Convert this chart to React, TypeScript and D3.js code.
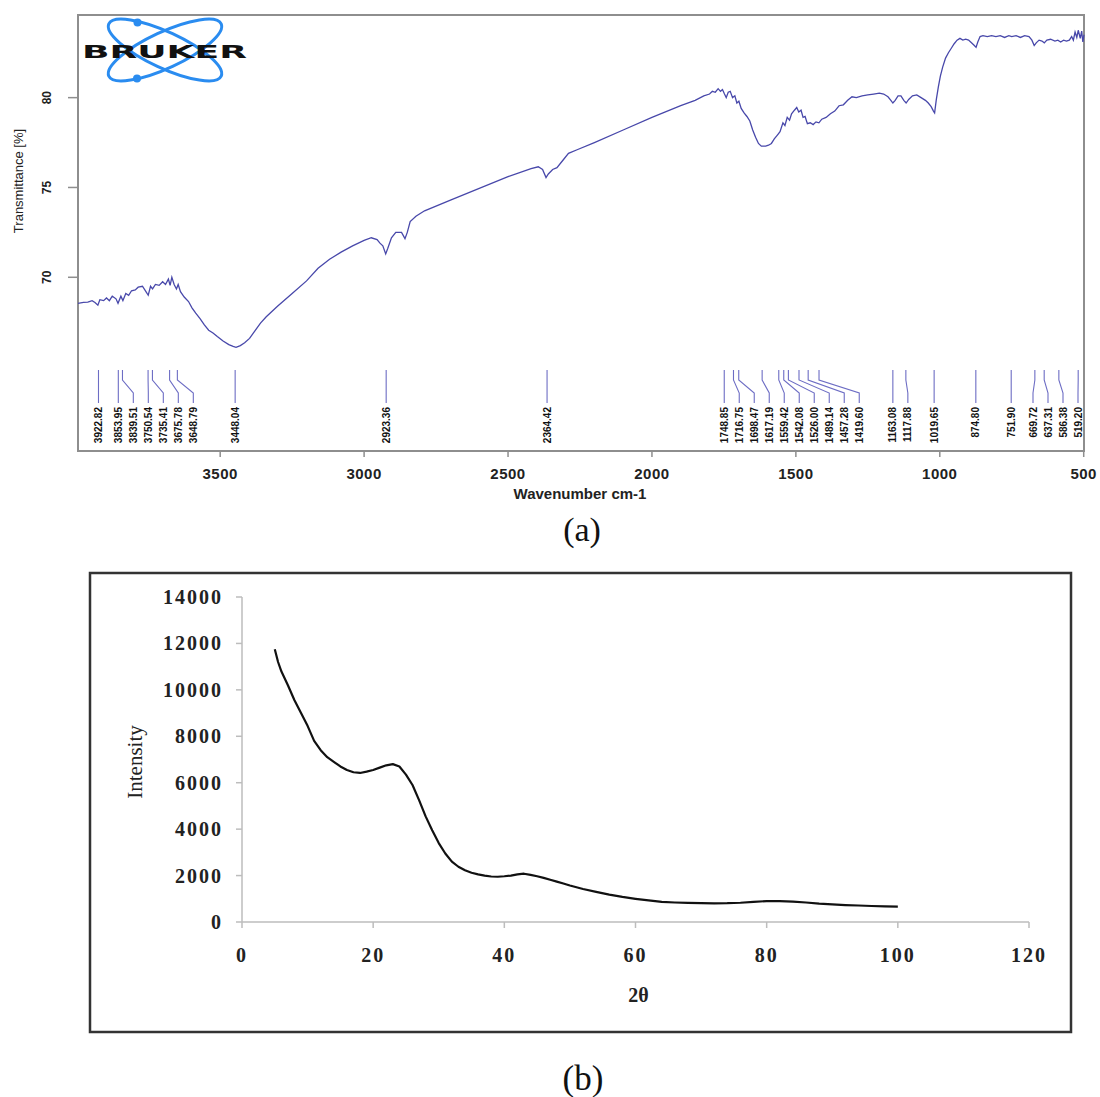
import React from 'react';
import * as d3 from 'd3';

// ---------- FTIR (a) ----------
const ftirData: [number, number][] = [
  [3994, 68.55], [3975, 68.6], [3960, 68.62], [3945, 68.7], [3935, 68.6], [3925, 68.45], [3918, 68.75],
  [3905, 68.7], [3895, 68.85], [3885, 68.7], [3875, 68.95], [3862, 68.8], [3855, 68.55], [3845, 68.95],
  [3838, 68.7], [3828, 69.1], [3818, 69.0], [3808, 69.25], [3795, 69.3], [3785, 69.45], [3770, 69.5],
  [3758, 69.2], [3750, 69.0], [3742, 69.5], [3735, 69.35], [3725, 69.6], [3712, 69.55], [3700, 69.75],
  [3690, 69.6], [3680, 69.9], [3674, 69.55], [3668, 70.0], [3660, 69.6], [3652, 69.35], [3646, 69.6],
  [3638, 69.2], [3625, 68.9], [3610, 68.65], [3598, 68.3], [3585, 68.0], [3570, 67.7], [3555, 67.35],
  [3540, 67.05], [3525, 66.9], [3510, 66.7], [3490, 66.45], [3470, 66.25], [3455, 66.15], [3445, 66.1],
  [3430, 66.2], [3415, 66.35], [3398, 66.6], [3380, 67.0], [3360, 67.45], [3340, 67.8], [3300, 68.4],
  [3250, 69.1], [3200, 69.8], [3160, 70.5], [3120, 71.0], [3080, 71.4], [3040, 71.75], [3000, 72.05],
  [2975, 72.2], [2955, 72.1], [2945, 71.9], [2935, 71.75], [2925, 71.3], [2918, 71.6], [2905, 72.2],
  [2890, 72.5], [2870, 72.5], [2858, 72.15], [2850, 72.5], [2840, 73.1], [2820, 73.4], [2790, 73.7],
  [2700, 74.3], [2600, 74.95], [2500, 75.6], [2420, 76.05], [2395, 76.15], [2380, 76.0], [2368, 75.55],
  [2360, 75.75], [2345, 76.0], [2330, 76.1], [2310, 76.5], [2290, 76.9], [2260, 77.1], [2200, 77.5],
  [2100, 78.2], [2000, 78.9], [1900, 79.55], [1850, 79.85], [1820, 80.1], [1800, 80.2], [1790, 80.35],
  [1780, 80.3], [1770, 80.5], [1762, 80.35], [1755, 80.45], [1748, 80.2], [1742, 80.0], [1735, 80.3],
  [1728, 80.35], [1720, 80.0], [1712, 80.1], [1705, 79.7], [1698, 79.8], [1690, 79.4], [1680, 79.15],
  [1670, 78.95], [1660, 78.7], [1650, 78.2], [1640, 77.8], [1630, 77.45], [1620, 77.3], [1605, 77.3],
  [1595, 77.35], [1585, 77.45], [1575, 77.7], [1565, 77.9], [1555, 78.1], [1545, 78.6], [1538, 78.45],
  [1530, 78.9], [1522, 78.75], [1515, 79.1], [1505, 79.3], [1497, 79.45], [1490, 79.2], [1482, 79.3],
  [1475, 78.9], [1468, 78.95], [1460, 78.55], [1450, 78.6], [1440, 78.5], [1430, 78.65], [1420, 78.6],
  [1410, 78.8], [1395, 78.9], [1380, 79.1], [1365, 79.25], [1350, 79.55], [1335, 79.6], [1320, 79.85],
  [1305, 80.05], [1290, 80.0], [1270, 80.1], [1250, 80.15], [1230, 80.2], [1210, 80.25], [1195, 80.2],
  [1180, 80.05], [1170, 79.85], [1163, 79.7], [1155, 79.85], [1145, 80.1], [1135, 80.1], [1125, 79.85],
  [1117, 79.7], [1108, 79.9], [1095, 80.1], [1080, 80.15], [1065, 80.0], [1050, 79.85], [1040, 79.7],
  [1030, 79.5], [1022, 79.25], [1018, 79.15], [1012, 79.9], [1005, 80.6], [998, 81.2], [990, 81.7],
  [980, 82.2], [970, 82.5], [960, 82.75], [950, 83.0], [940, 83.2], [930, 83.3], [920, 83.2],
  [910, 83.25], [900, 83.2], [890, 83.05], [880, 82.9], [874, 82.8], [868, 83.1], [860, 83.4],
  [850, 83.45], [835, 83.4], [820, 83.45], [805, 83.4], [790, 83.45], [775, 83.35], [760, 83.45],
  [750, 83.4], [735, 83.45], [720, 83.35], [705, 83.45], [690, 83.4], [680, 83.2], [672, 82.9],
  [665, 83.05], [655, 83.2], [645, 83.15], [637, 83.05], [628, 83.2], [615, 83.25], [600, 83.15],
  [590, 83.2], [580, 83.1], [570, 83.2], [560, 83.15], [550, 83.2], [542, 83.4], [536, 83.2],
  [530, 83.65], [524, 83.35], [519, 83.75], [512, 83.3], [507, 83.7], [503, 83.1], [499, 83.5],
];

const ftirPeaks: number[] = [
  3922.82, 3853.95, 3839.51, 3750.54, 3735.41, 3675.78, 3648.79, 3448.04, 2923.36, 2364.42,
  1748.85, 1716.75, 1698.47, 1617.19, 1559.42, 1542.08, 1526.0, 1489.14, 1457.28, 1419.6,
  1163.08, 1117.88, 1019.65, 874.8, 751.9, 669.72, 637.31, 586.38, 519.2,
];

const ftirXTicks = [3500, 3000, 2500, 2000, 1500, 1000, 500];
const ftirYTicks = [70, 75, 80];

// ---------- XRD (b) ----------
const xrdData: [number, number][] = [
  [5, 11750], [5.5, 11200], [6, 10800], [7, 10200], [8, 9550], [9, 9000], [10, 8450], [11, 7800],
  [12, 7400], [13, 7100], [14, 6900], [15, 6700], [16, 6550], [17, 6450], [18, 6420], [19, 6480],
  [20, 6550], [21, 6650], [22, 6750], [23, 6800], [24, 6700], [25, 6350], [26, 5900], [27, 5250],
  [28, 4550], [29, 3950], [30, 3400], [31, 2950], [32, 2600], [33, 2380], [34, 2230], [35, 2120],
  [36, 2050], [37, 2000], [38, 1960], [39, 1950], [40, 1970], [41, 2000], [42, 2050], [43, 2080],
  [44, 2030], [45, 1970], [46, 1900], [47, 1820], [48, 1740], [49, 1660], [50, 1570], [52, 1420],
  [54, 1300], [56, 1180], [58, 1080], [60, 1000], [62, 930], [64, 870], [66, 840], [68, 820],
  [70, 810], [72, 805], [74, 810], [76, 830], [78, 870], [80, 900], [82, 900], [84, 880],
  [86, 840], [88, 790], [90, 760], [92, 730], [94, 710], [96, 690], [98, 670], [100, 660],
];

const xrdXTicks = [0, 20, 40, 60, 80, 100, 120];
const xrdYTicks = [0, 2000, 4000, 6000, 8000, 10000, 12000, 14000];

const SANS = 'Liberation Sans, Arial, sans-serif';
const SERIF = 'Liberation Serif, Times New Roman, serif';

export default function App() {
  // FTIR scales
  const fx = d3.scaleLinear().domain([3994, 499]).range([78, 1084]);
  const fy = d3.scaleLinear().domain([60.33, 84.6]).range([451, 15]);
  const ftirLine = d3
    .line<[number, number]>()
    .x((d) => fx(d[0]))
    .y((d) => fy(d[1]));

  // peak label layout
  const peakXs = ftirPeaks.map((p) => fx(p));
  const labXs = [...peakXs];
  const gap = 15;
  for (let i = 1; i < labXs.length; i++) labXs[i] = Math.max(labXs[i], labXs[i - 1] + gap);
  labXs[labXs.length - 1] = Math.min(labXs[labXs.length - 1], 1078);
  for (let i = labXs.length - 2; i >= 0; i--) labXs[i] = Math.min(labXs[i], labXs[i + 1] - gap);

  // XRD scales
  const bx = d3.scaleLinear().domain([0, 120]).range([242, 1029]);
  const by = d3.scaleLinear().domain([0, 14000]).range([922, 597]);
  const xrdLine = d3
    .line<[number, number]>()
    .x((d) => bx(d[0]))
    .y((d) => by(d[1]));

  const frameGrey = '#8e8e8e';

  return (
    <svg
      width={1100}
      height={1097}
      style={{ position: 'absolute', left: 0, top: 0, background: '#fff' }}
      xmlns="http://www.w3.org/2000/svg"
    >
      <rect x={0} y={0} width={1100} height={1097} fill="#fff" />

      {/* ===== (a) FTIR ===== */}
      <rect x={78} y={15} width={1006} height={436} fill="none" stroke={frameGrey} strokeWidth={2} />

      {/* Bruker logo */}
      <g>
        <ellipse cx={165} cy={50} rx={62} ry={18} fill="none" stroke="#2a8cf0" strokeWidth={3}
          transform="rotate(25 165 50)" />
        <ellipse cx={165} cy={50} rx={62} ry={18} fill="none" stroke="#2a8cf0" strokeWidth={3}
          transform="rotate(-25 165 50)" />
        <circle cx={137.5} cy={22.5} r={4} fill="#2a8cf0" />
        <circle cx={137} cy={78.5} r={4} fill="#2a8cf0" />
        <text x={82} y={57.5} fontFamily="DejaVu Sans, sans-serif" fontWeight={900} fontSize={18}
          textLength={165} lengthAdjust="spacingAndGlyphs" fill="#111">BRUKER</text>
      </g>

      {/* Y axis ticks */}
      {ftirYTicks.map((t) => (
        <g key={'fy' + t}>
          <line x1={68} x2={78} y1={fy(t)} y2={fy(t)} stroke={frameGrey} strokeWidth={1.5} />
          <text
            x={47}
            y={fy(t)}
            transform={`rotate(-90 47 ${fy(t)})`}
            textAnchor="middle"
            dominantBaseline="central"
            fontFamily={SANS}
            fontWeight="bold"
            fontSize={12}
            fill="#222"
          >
            {t}
          </text>
        </g>
      ))}
      <text
        x={18}
        y={181}
        transform="rotate(-90 18 181)"
        textAnchor="middle"
        dominantBaseline="central"
        fontFamily={SANS}
        fontSize={13}
        fill="#222"
      >
        Transmittance [%]
      </text>

      {/* X axis ticks */}
      {ftirXTicks.map((t) => (
        <g key={'fx' + t}>
          <line x1={fx(t)} x2={fx(t)} y1={451} y2={457} stroke={frameGrey} strokeWidth={1.5} />
          <text x={fx(t)} y={479} textAnchor="middle" fontFamily={SANS} fontWeight="bold" fontSize={15}
            letterSpacing={0.5} fill="#222">
            {t}
          </text>
        </g>
      ))}
      <text x={580} y={499} textAnchor="middle" fontFamily={SANS} fontWeight="bold" fontSize={15} fill="#222">
        Wavenumber cm-1
      </text>

      {/* spectrum */}
      <path d={ftirLine(ftirData) || ''} fill="none" stroke="#4848aa" strokeWidth={1.3} />

      {/* peak markers */}
      {ftirPeaks.map((p, i) => {
        const px = peakXs[i];
        const lx = labXs[i];
        return (
          <g key={'pk' + i}>
            <path d={`M${px},370 V380 L${lx},393 V403`} fill="none" stroke="#6d6dc4" strokeWidth={1.1} />
            <text
              x={lx}
              y={407}
              transform={`rotate(-90 ${lx} 407)`}
              textAnchor="end"
              dominantBaseline="central"
              fontFamily={SANS}
              fontWeight="bold"
              fontSize={10}
              fill="#111"
            >
              {p.toFixed(2)}
            </text>
          </g>
        );
      })}

      <text x={582} y={541} textAnchor="middle" fontFamily={SERIF} fontSize={34} fill="#111">(a)</text>

      {/* ===== (b) XRD ===== */}
      <rect x={90} y={573} width={981} height={459} fill="none" stroke="#333" strokeWidth={2.5} />

      {/* axes */}
      <line x1={242} x2={242} y1={by(14000)} y2={by(0)} stroke="#bdbdbd" strokeWidth={1.5} />
      <line x1={242} x2={bx(120)} y1={by(0)} y2={by(0)} stroke="#bdbdbd" strokeWidth={1.5} />
      {xrdYTicks.map((t) => (
        <g key={'by' + t}>
          <line x1={236} x2={242} y1={by(t)} y2={by(t)} stroke="#bdbdbd" strokeWidth={1.5} />
          <text x={223} y={by(t)} textAnchor="end" dominantBaseline="central" fontFamily={SERIF}
            fontWeight="bold" fontSize={20} letterSpacing={2} fill="#222">
            {t}
          </text>
        </g>
      ))}
      {xrdXTicks.map((t) => (
        <g key={'bx' + t}>
          <line x1={bx(t)} x2={bx(t)} y1={by(0)} y2={by(0) + 6} stroke="#bdbdbd" strokeWidth={1.5} />
          <text x={bx(t)} y={955} textAnchor="middle" dominantBaseline="central" fontFamily={SERIF}
            fontWeight="bold" fontSize={20} letterSpacing={2} fill="#222">
            {t}
          </text>
        </g>
      ))}
      <text x={bx(60) + 3} y={995} textAnchor="middle" dominantBaseline="central" fontFamily={SERIF}
        fontWeight="bold" fontSize={20} fill="#222">
        2θ
      </text>
      <text x={135} y={762} transform="rotate(-90 135 762)" textAnchor="middle" dominantBaseline="central"
        fontFamily={SERIF} fontSize={21} fill="#222">
        Intensity
      </text>

      <path d={xrdLine(xrdData) || ''} fill="none" stroke="#111" strokeWidth={2.2} strokeLinejoin="round" />

      <text x={583} y={1090} textAnchor="middle" fontFamily={SERIF} fontSize={35} fill="#111">(b)</text>
    </svg>
  );
}
